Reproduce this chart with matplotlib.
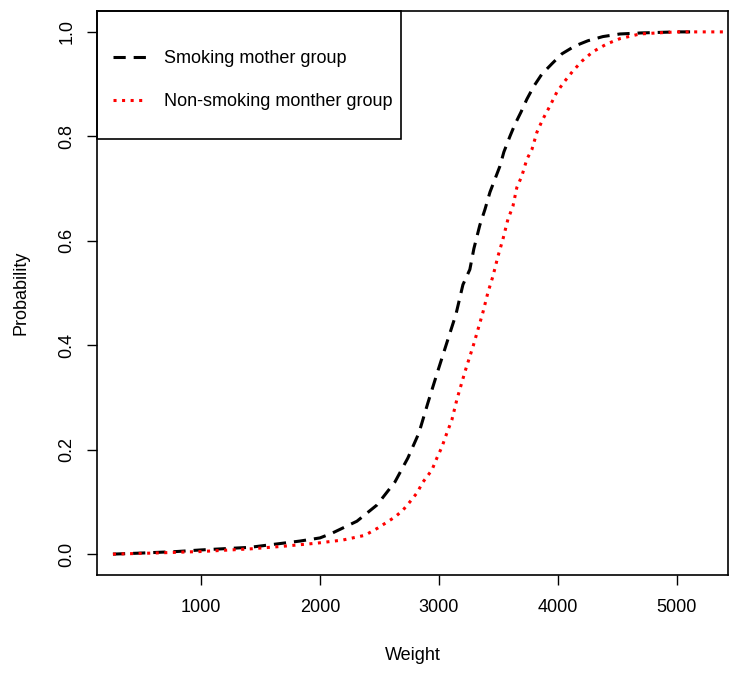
import numpy as np
import matplotlib.pyplot as plt
from matplotlib.patches import Rectangle

plt.rcParams['font.family'] = ['Liberation Sans', 'DejaVu Sans']

# ECDF de peso al nacer
smoke_w = [260, 500, 800, 1000, 1412, 1832, 2000, 2101, 2311, 2479, 2630, 2739,
           2832, 2908, 2990, 3067, 3143, 3202, 3260, 3294, 3344, 3387, 3429,
           3471, 3513, 3546, 3597, 3639, 3689, 3739, 3798, 3865, 3950, 4034,
           4143, 4252, 4378, 4521, 4700, 5000, 5170]
smoke_p = [0.0, 0.002, 0.005, 0.008, 0.013, 0.025, 0.031, 0.040, 0.063, 0.094,
           0.138, 0.184, 0.232, 0.290, 0.350, 0.405, 0.459, 0.516, 0.545, 0.585,
           0.630, 0.660, 0.693, 0.718, 0.743, 0.770, 0.800, 0.823, 0.846, 0.871,
           0.896, 0.919, 0.939, 0.958, 0.973, 0.983, 0.991, 0.996, 0.998, 1.0,
           1.0]

nonsmoke_w = [260, 600, 1000, 1412, 1690, 1975, 2193, 2378, 2487, 2630, 2697,
              2756, 2815, 2866, 2941, 2983, 3025, 3067, 3109, 3151, 3220, 3290,
              3370, 3412, 3454, 3496, 3538, 3580, 3622, 3655, 3697, 3739, 3782,
              3824, 3874, 3933, 3992, 4059, 4126, 4202, 4294, 4412, 4521, 4689,
              4832, 5000, 5450]
nonsmoke_p = [0.0, 0.002, 0.005, 0.010, 0.015, 0.021, 0.027, 0.036, 0.050,
              0.071, 0.084, 0.100, 0.117, 0.138, 0.161, 0.184, 0.205, 0.232,
              0.257, 0.296, 0.350, 0.400, 0.463, 0.501, 0.532, 0.570, 0.603,
              0.641, 0.666, 0.702, 0.724, 0.756, 0.775, 0.808, 0.833, 0.858,
              0.885, 0.906, 0.925, 0.944, 0.962, 0.977, 0.987, 0.996, 0.998,
              1.0, 1.0]

labels = ["Smoking mother group", "Non-smoking monther group"]
xticks = [1000, 2000, 3000, 4000, 5000]
yticks = [0.0, 0.2, 0.4, 0.6, 0.8, 1.0]

fig = plt.figure(figsize=(7.30, 6.77), dpi=100)
ax = fig.add_axes([97 / 730, 1 - 575 / 677, 631 / 730, 564 / 677])

ax.plot(smoke_w, smoke_p, color="black", lw=2.2, linestyle=(0, (4.0, 2.6)),
        label=labels[0])
ax.plot(nonsmoke_w, nonsmoke_p, color="red", lw=2.2, linestyle=(0, (1, 1.8)),
        label=labels[1])

ax.set_xlim(126, 5430)
ax.set_ylim(-0.04, 1.04)
ax.set_xticks(xticks)
ax.set_yticks(yticks)
ax.set_yticklabels(["%.1f" % v for v in yticks], rotation=90, va="center")
ax.tick_params(length=7.5, width=1, labelsize=13, pad=8)
ax.tick_params(axis="x", pad=10)
for s in ax.spines.values():
    s.set_linewidth(1.2)

ax.set_xlabel("Weight", fontsize=13, labelpad=22)
ax.set_ylabel("Probability", fontsize=13, labelpad=21)

# Caja de la leyenda estilo R
ax.add_patch(Rectangle((0, 1 - 128 / 564), 304 / 630, 128 / 564,
                       transform=ax.transAxes, fill=False, edgecolor="black",
                       lw=1.2, zorder=5, clip_on=False))
ax.legend(loc="center left", bbox_to_anchor=(16 / 630, 1 - 69 / 564),
          frameon=False, fontsize=13, borderpad=0, borderaxespad=0,
          handlelength=1.9, handletextpad=0.95, labelspacing=1.45)

plt.savefig("out.png", dpi=100)
